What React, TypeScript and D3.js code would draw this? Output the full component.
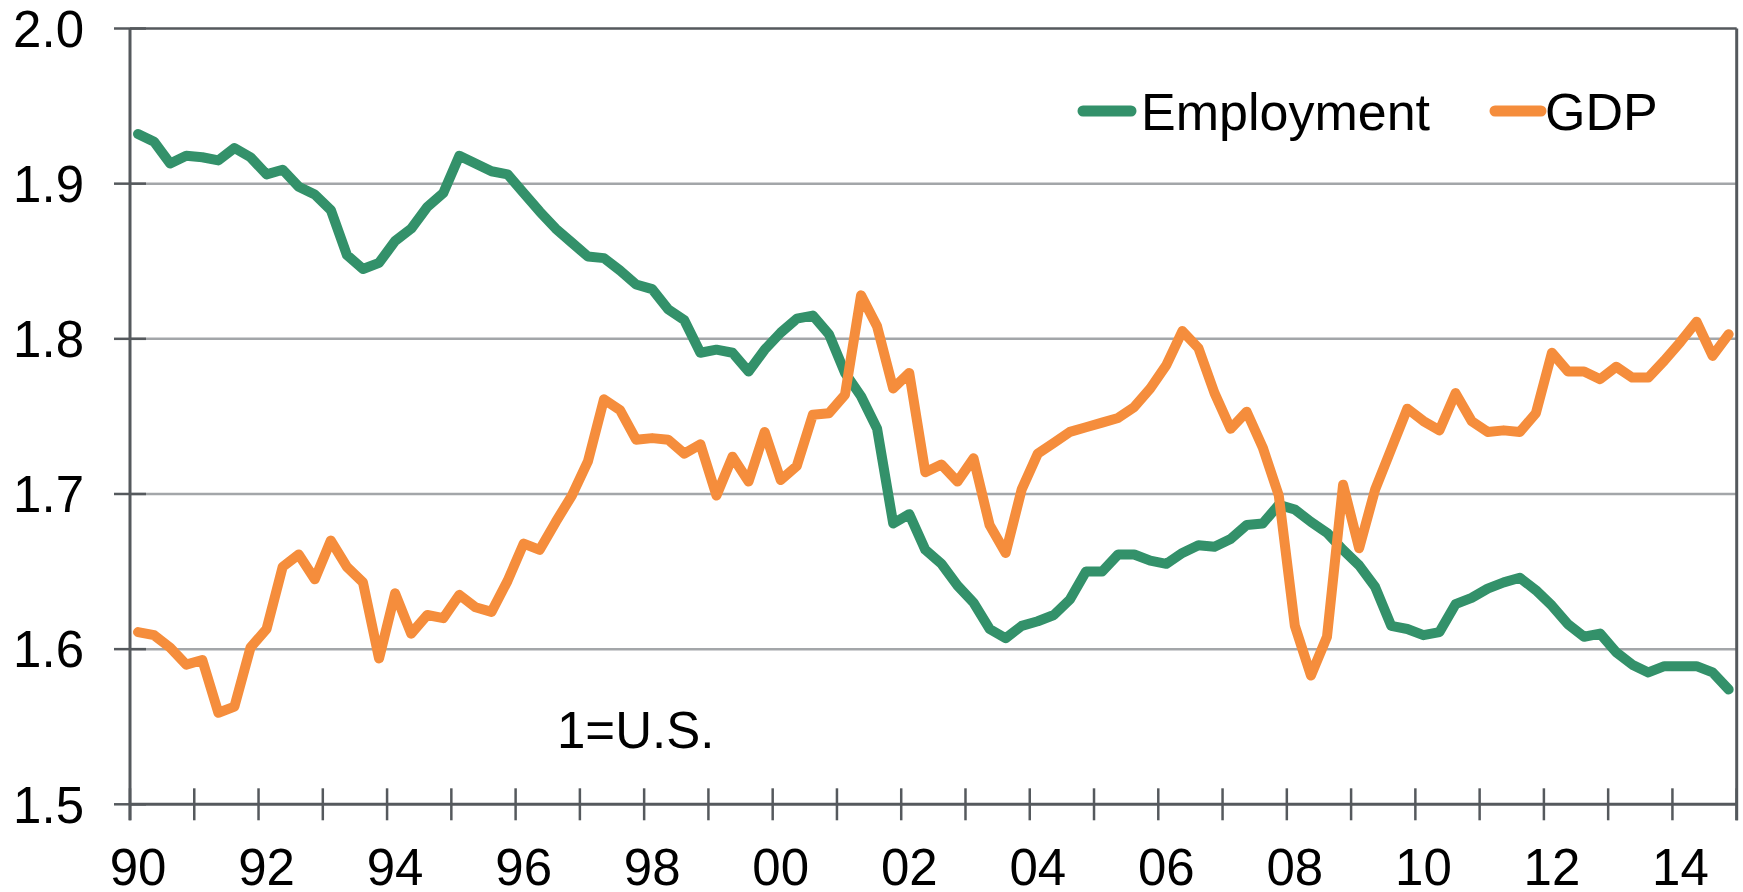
import React from "react";
import * as d3 from "d3";

const startYear = 1990;
const endYear = 2015;
const quarters: string[] = d3.range(startYear, endYear).flatMap((y) => [1, 2, 3, 4].map((q) => `${y}Q${q}`));

const employment: number[] = [
  1.932, 1.927, 1.913, 1.918, 1.917, 1.915, 1.923, 1.917, 1.906, 1.909,
  1.898, 1.893, 1.883, 1.854, 1.845, 1.849, 1.863, 1.871, 1.885, 1.894,
  1.918, 1.913, 1.908, 1.906, 1.894, 1.882, 1.871, 1.862, 1.853, 1.852,
  1.844, 1.835, 1.832, 1.819, 1.812, 1.791, 1.793, 1.791, 1.779, 1.793,
  1.804, 1.813, 1.815, 1.803, 1.778, 1.763, 1.742, 1.681, 1.687, 1.664,
  1.655, 1.641, 1.630, 1.613, 1.607, 1.615, 1.618, 1.622, 1.632, 1.650,
  1.650, 1.661, 1.661, 1.657, 1.655, 1.662, 1.667, 1.666, 1.671, 1.680,
  1.681, 1.693, 1.690, 1.682, 1.675, 1.664, 1.654, 1.640, 1.615, 1.613,
  1.609, 1.611, 1.629, 1.633, 1.639, 1.643, 1.646, 1.638, 1.628, 1.616,
  1.608, 1.610, 1.598, 1.590, 1.585, 1.589, 1.589, 1.589, 1.585, 1.574,
];

const gdp: number[] = [
  1.611, 1.609, 1.601, 1.590, 1.593, 1.559, 1.563, 1.601, 1.613, 1.653,
  1.661, 1.645, 1.670, 1.653, 1.643, 1.594, 1.636, 1.610, 1.622, 1.620,
  1.635, 1.627, 1.624, 1.644, 1.668, 1.664, 1.682, 1.699, 1.721, 1.761,
  1.754, 1.735, 1.736, 1.735, 1.726, 1.732, 1.699, 1.724, 1.708, 1.740,
  1.709, 1.718, 1.751, 1.752, 1.764, 1.828, 1.808, 1.768, 1.778, 1.714,
  1.719, 1.708, 1.723, 1.680, 1.662, 1.703, 1.726, 1.733, 1.740, 1.743,
  1.746, 1.749, 1.756, 1.768, 1.783, 1.805, 1.794, 1.765, 1.742, 1.753,
  1.730, 1.699, 1.615, 1.583, 1.608, 1.706, 1.665, 1.703, 1.729, 1.755,
  1.747, 1.741, 1.765, 1.747, 1.740, 1.741, 1.740, 1.752, 1.791, 1.779,
  1.779, 1.774, 1.782, 1.775, 1.775, 1.786, 1.798, 1.811, 1.789, 1.803,
];

const yTicks: number[] = [1.5, 1.6, 1.7, 1.8, 1.9, 2.0];
const xTickLabels: string[] = ["90", "92", "94", "96", "98", "00", "02", "04", "06", "08", "10", "12", "14"];

const seriesNames = ["Employment", "GDP"];
const GREEN = "#33916a";
const ORANGE = "#f58d3c";
const AXIS = "#55595d";
const GRID = "#a3a6a9";
const FONT = "'Liberation Sans', Arial, sans-serif";

export default function App() {
  const left = 130;
  const right = 1736.7;
  const top = 28.5;
  const bottom = 804.3;

  const x = d3.scalePoint<string>().domain(quarters).range([left, right]).padding(0.5);
  const step = x.step();
  const y = d3.scaleLinear().domain([1.5, 2.0]).range([bottom, top]);

  const line = d3
    .line<number>()
    .x((_, i) => x(quarters[i]) as number)
    .y((d) => y(d));

  const yearBounds = d3.range(0, endYear - startYear + 1).map((k) => left + step * 4 * k);

  return (
    <svg
      width={1743}
      height={892}
      style={{ position: "absolute", left: 0, top: 0, background: "#fff" }}
      fontFamily={FONT}
    >
      {yTicks.slice(1, -1).map((t) => (
        <line key={t} x1={left} x2={right} y1={y(t)} y2={y(t)} stroke={GRID} strokeWidth={2.5} />
      ))}
      <line x1={left} x2={right} y1={y(2.0)} y2={y(2.0)} stroke={AXIS} strokeWidth={2.5} />
      {yTicks.map((t) => (
        <line key={"yt" + t} x1={left - 16} x2={left + 16} y1={y(t)} y2={y(t)} stroke={AXIS} strokeWidth={2.5} />
      ))}
      <line x1={left} x2={left} y1={top} y2={bottom + 16} stroke={AXIS} strokeWidth={3} />
      <line x1={right} x2={right} y1={top} y2={bottom + 16} stroke={AXIS} strokeWidth={3} />
      <line x1={left} x2={right} y1={bottom} y2={bottom} stroke={AXIS} strokeWidth={3} />
      {yearBounds.map((xx, k) => (
        <line key={"xt" + k} x1={xx} x2={xx} y1={bottom - 16} y2={bottom + 16} stroke={AXIS} strokeWidth={2.5} />
      ))}

      {yTicks.map((t) => (
        <text key={"yl" + t} x={84} y={y(t) + 18.3} textAnchor="end" fontSize={51} fill="#000">
          {t.toFixed(1)}
        </text>
      ))}
      {xTickLabels.map((lab, k) => (
        <text
          key={"xl" + lab}
          x={x(quarters[k * 8]) as number}
          y={885}
          textAnchor="middle"
          fontSize={51}
          fill="#000"
        >
          {lab}
        </text>
      ))}

      <path
        d={line(employment) as string}
        fill="none"
        stroke={GREEN}
        strokeWidth={10}
        strokeLinejoin="round"
        strokeLinecap="round"
      />
      <path
        d={line(gdp) as string}
        fill="none"
        stroke={ORANGE}
        strokeWidth={10}
        strokeLinejoin="round"
        strokeLinecap="round"
      />

      <line x1={1083} x2={1131} y1={111} y2={111} stroke={GREEN} strokeWidth={11} strokeLinecap="round" />
      <text x={1141} y={130} fontSize={52} fill="#000">
        {seriesNames[0]}
      </text>
      <line x1={1495} x2={1541} y1={111} y2={111} stroke={ORANGE} strokeWidth={11} strokeLinecap="round" />
      <text x={1545} y={130} fontSize={52} fill="#000">
        {seriesNames[1]}
      </text>

      <text x={557} y={748} fontSize={51} fill="#000">
        1=U.S.
      </text>
    </svg>
  );
}
